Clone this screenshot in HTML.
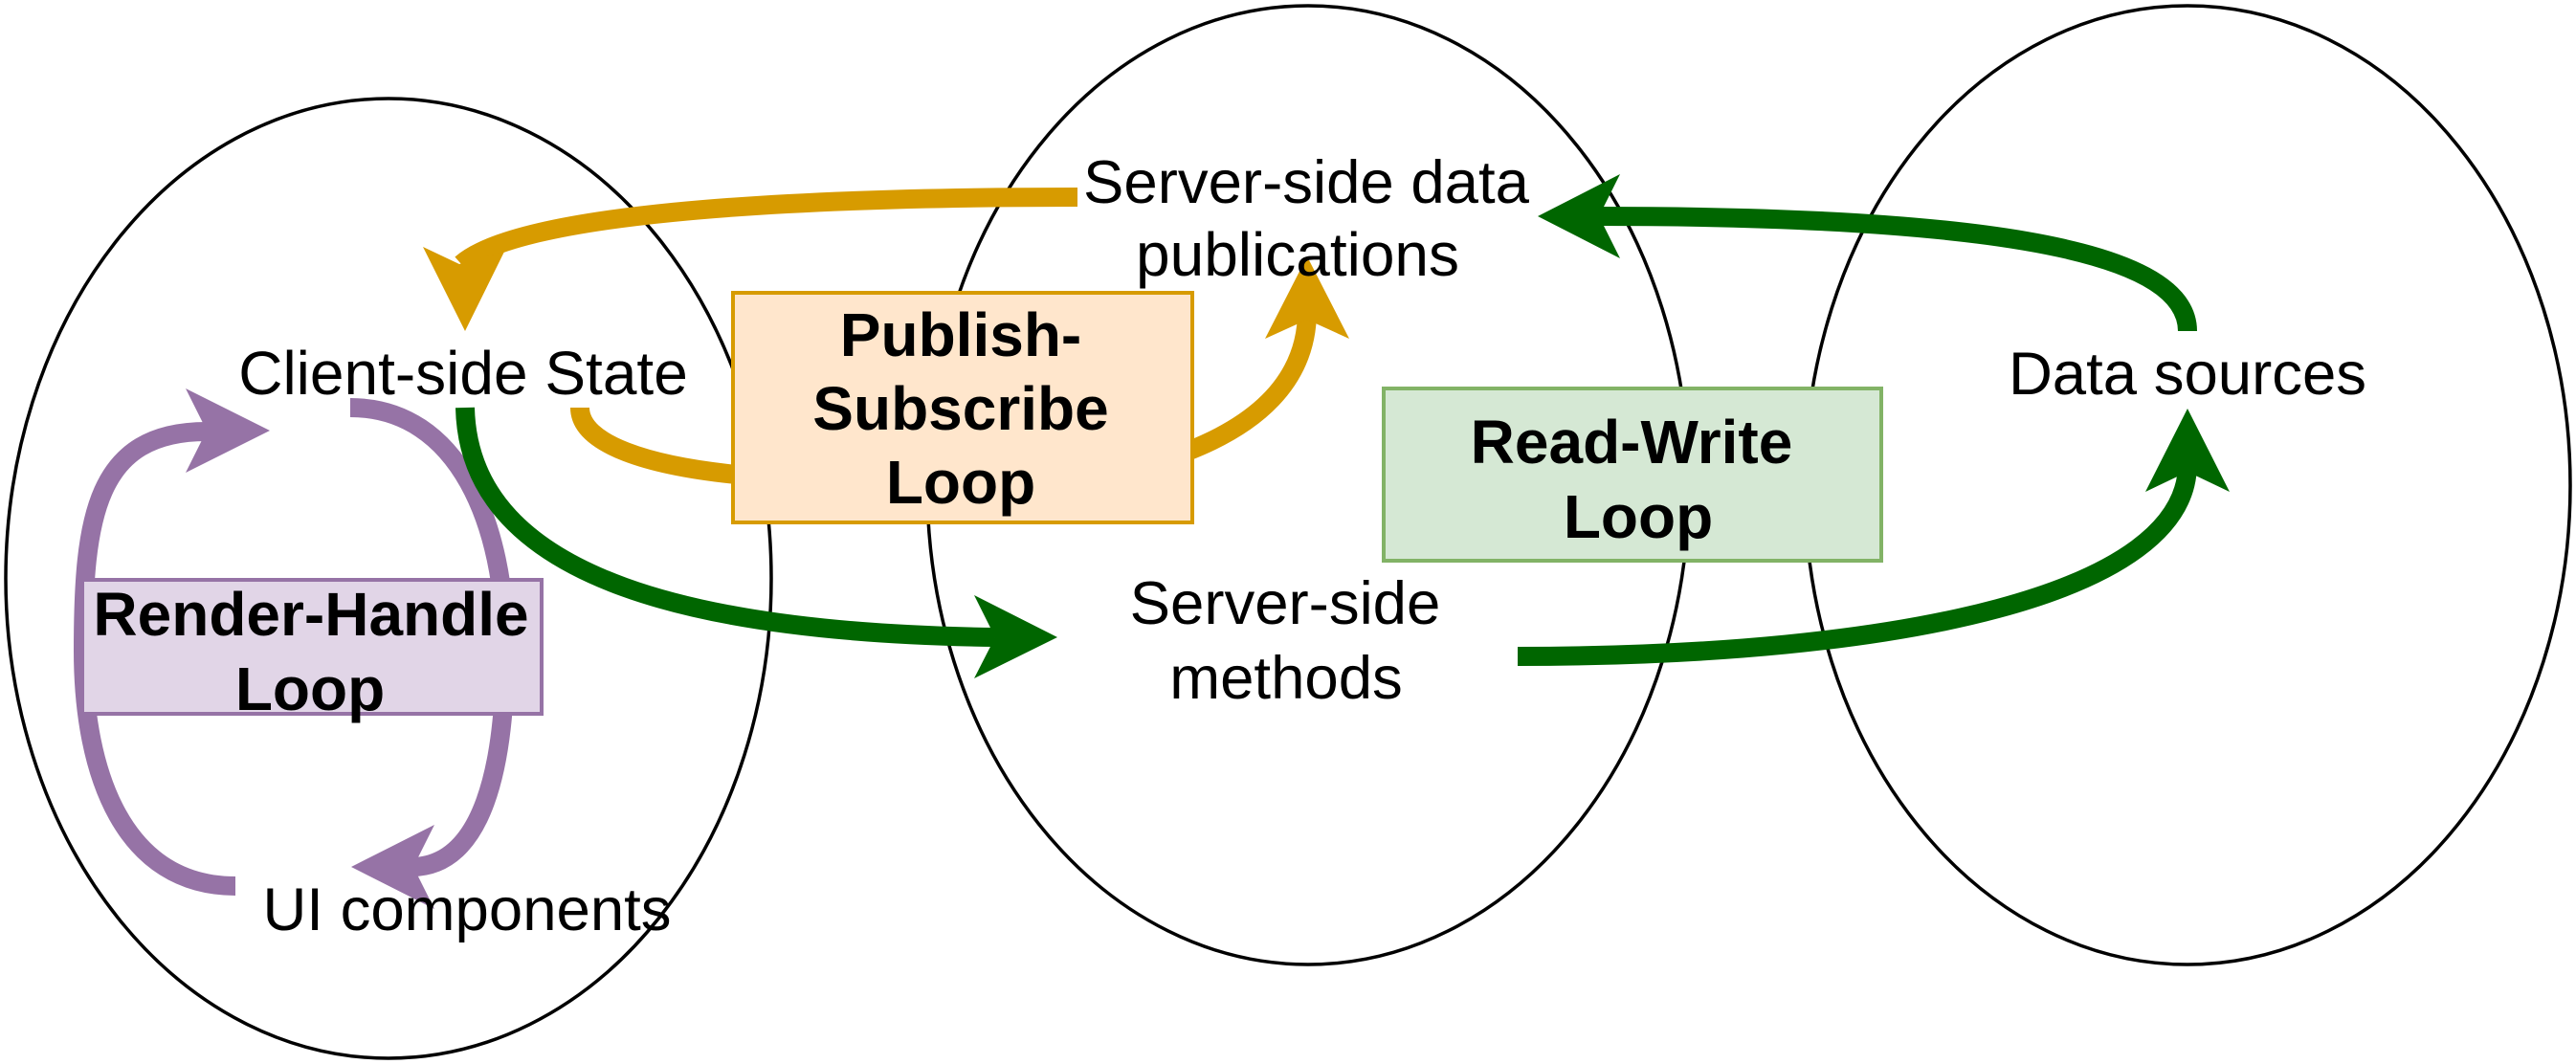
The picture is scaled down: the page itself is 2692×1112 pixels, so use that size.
<!DOCTYPE html>
<html>
<head>
<meta charset="utf-8">
<style>
html,body{margin:0;padding:0;background:#fff;width:2692px;height:1112px;overflow:hidden}
svg{display:block}
text{font-family:"Liberation Sans",sans-serif;font-size:63.5px;fill:#000;text-anchor:middle}
.w{font-size:64px}
.b{font-weight:bold;font-size:64px}
</style>
</head>
<body>
<svg width="2692" height="1112" viewBox="0 0 2692 1112" xmlns="http://www.w3.org/2000/svg">
<rect width="2692" height="1112" fill="#fff"/>
<g fill="none" stroke="#000" stroke-width="3.5">
<ellipse cx="406" cy="604.5" rx="400" ry="501.5"/>
<ellipse cx="1367" cy="507" rx="398" ry="501"/>
<ellipse cx="2286" cy="507" rx="400" ry="501"/>
</g>
<!-- purple -->
<g fill="none" stroke="#9673a6" stroke-width="20">
<path d="M246 926 C130 926 87 810 87 680 C87 540 100 451 216 451"/>
<path d="M366 426 C480 426 528 550 528 678 C528 800 505 906 430 906"/>
</g>
<polygon points="282,450 194,406 216,450 194,494" fill="#9673a6"/>
<polygon points="367,906 454,862 432,906 454,950" fill="#9673a6"/>
<!-- green -->
<g fill="none" stroke="#006600" stroke-width="20">
<path d="M486 426 C490 610 740 662 1040 666"/>
<path d="M1586 686 C1990 686 2286 620 2286 485"/>
<path d="M2286 346 C2286 255 2040 226 1670 226"/>
</g>
<polygon points="1105,666 1018,622 1040,666 1018,709" fill="#006600"/>
<polygon points="2286,427 2242,514 2286,493 2330,514" fill="#006600"/>
<polygon points="1607,226 1693,182 1671,226 1693,270" fill="#006600"/>
<!-- orange -->
<g fill="none" stroke="#d79b00" stroke-width="20">
<path d="M1126 206 C800 206 540 225 482 276"/>
<path d="M606 426 C606 465 680 487 770 496"/>
<path d="M1240 472 C1310 445 1366 400 1366 325"/>
</g>
<polygon points="486,346 442,258 480,276 527,263" fill="#d79b00"/>
<polygon points="1366,268 1322,354 1366,334 1410,354" fill="#d79b00"/>
<!-- boxes -->
<rect x="766" y="306" width="480" height="240" fill="#ffe6cc" stroke="#d79b00" stroke-width="4"/>
<rect x="1446" y="406" width="520" height="180" fill="#d5e8d4" stroke="#82b366" stroke-width="4"/>
<rect x="86" y="606" width="480" height="140" fill="#e1d5e7" stroke="#9673a6" stroke-width="4"/>
<!-- labels -->
<text class="w" x="484" y="412">Client-side State</text>
<text x="488" y="972">UI components</text>
<text x="1365" y="212">Server-side data</text>
<text class="w" x="1356" y="288">publications</text>
<text x="1343" y="652">Server-side</text>
<text x="1344" y="730">methods</text>
<text x="2286" y="412">Data sources</text>
<text class="b" x="1004" y="372">Publish-</text>
<text class="b" x="1004" y="449">Subscribe</text>
<text class="b" x="1004" y="526">Loop</text>
<text class="b" x="1705" y="484">Read-Write</text>
<text class="b" x="1712" y="562">Loop</text>
<text class="b" x="325" y="664">Render-Handle</text>
<text class="b" x="324" y="742">Loop</text>
</svg>
</body>
</html>
